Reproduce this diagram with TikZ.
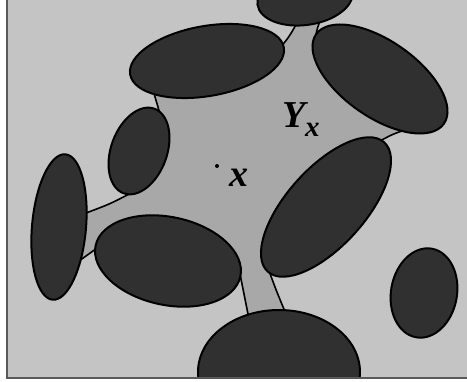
\documentclass[tikz,border=0pt]{standalone}
\usepackage{fontspec}
\setmainfont{Liberation Serif}
\definecolor{bggray}{gray}{0.77}
\definecolor{regiongray}{gray}{0.66}
\definecolor{blobgray}{gray}{0.19}
\definecolor{framegray}{gray}{0.35}
\tikzset{
  blob/.style={draw=black, line width=2pt, fill=blobgray},
  region/.style={draw=black, line width=1.6pt, fill=regiongray},
  biglabel/.style={inner sep=0pt, anchor=base west, font=\fontsize{38}{38}\selectfont\bfseries\itshape}
}
\begin{document}
\begin{tikzpicture}[x=1pt,y=-1pt]
  \useasboundingbox[fill=white] (0,0) rectangle (467,382);
  \fill[bggray] (7,0) rectangle (467,378);

  \begin{scope}
    \clip (7,0) rectangle (467,378);

    % the set Y_x, drawn first so the ellipses cover it
    \draw[region] (153,90) -- (207,61) -- (280,48)
      .. controls (289,37) .. (297,23) -- (305,5) -- (320,21)
      .. controls (316,32) .. (315,46) -- (380,79) -- (405,130)
      .. controls (393,134) .. (378,142) -- (326,207) -- (268,268)
      .. controls (276,290) .. (286,314) -- (265,340) -- (248,314)
      .. controls (244,294) .. (240,274) -- (168,261) -- (100,246)
      .. controls (90,253) .. (79,261) -- (60,230) -- (86,213)
      .. controls (110,204) .. (133,192) -- (139,151) -- (160,114)
      .. controls (156,102) .. cycle;

    % top ellipse
    \draw[blob, rotate around={8:(305,-2)}] (305,-2) ellipse [x radius=48, y radius=27];
    % upper left ellipse
    \draw[blob, rotate around={10:(207,61)}] (207,61) ellipse [x radius=78, y radius=35];
    % upper right ellipse
    \draw[blob, rotate around={-35:(380,79)}] (380,79) ellipse [x radius=78, y radius=38];
    % small ellipse on the left
    \draw[blob, rotate around={70:(139,151)}] (139,151) ellipse [x radius=45, y radius=28];
    % tall ellipse at the left side
    \draw[blob, rotate around={85:(59,227)}] (59,227) ellipse [x radius=73, y radius=27];
    % lower middle ellipse
    \draw[blob, rotate around={-12:(168,261)}] (168,261) ellipse [x radius=74, y radius=44];
    % long diagonal ellipse
    \draw[blob, rotate around={48:(326,207)}] (326,207) ellipse [x radius=87, y radius=39];
    % bottom ellipse
    \draw[blob] (279,372) ellipse [x radius=81, y radius=62];
    % lone ellipse on the right
    \draw[blob, rotate around={80:(424,293)}] (424,293) ellipse [x radius=45, y radius=33];
  \end{scope}

  % frame
  \draw[framegray, line width=2pt] (6.5,0) -- (6.5,378.5) -- (467,378.5);

  % labels
  \coordinate (xpt) at (217,166);
  \fill (xpt) circle (2);
  \node[biglabel] (xlabel) at (229,187) {x};
  \node[biglabel] (ylabel) at (282,128) {Y};
  \node[biglabel, font=\fontsize{29}{29}\selectfont\bfseries\itshape] (ysub) at (305,137) {x};
\end{tikzpicture}
\end{document}
